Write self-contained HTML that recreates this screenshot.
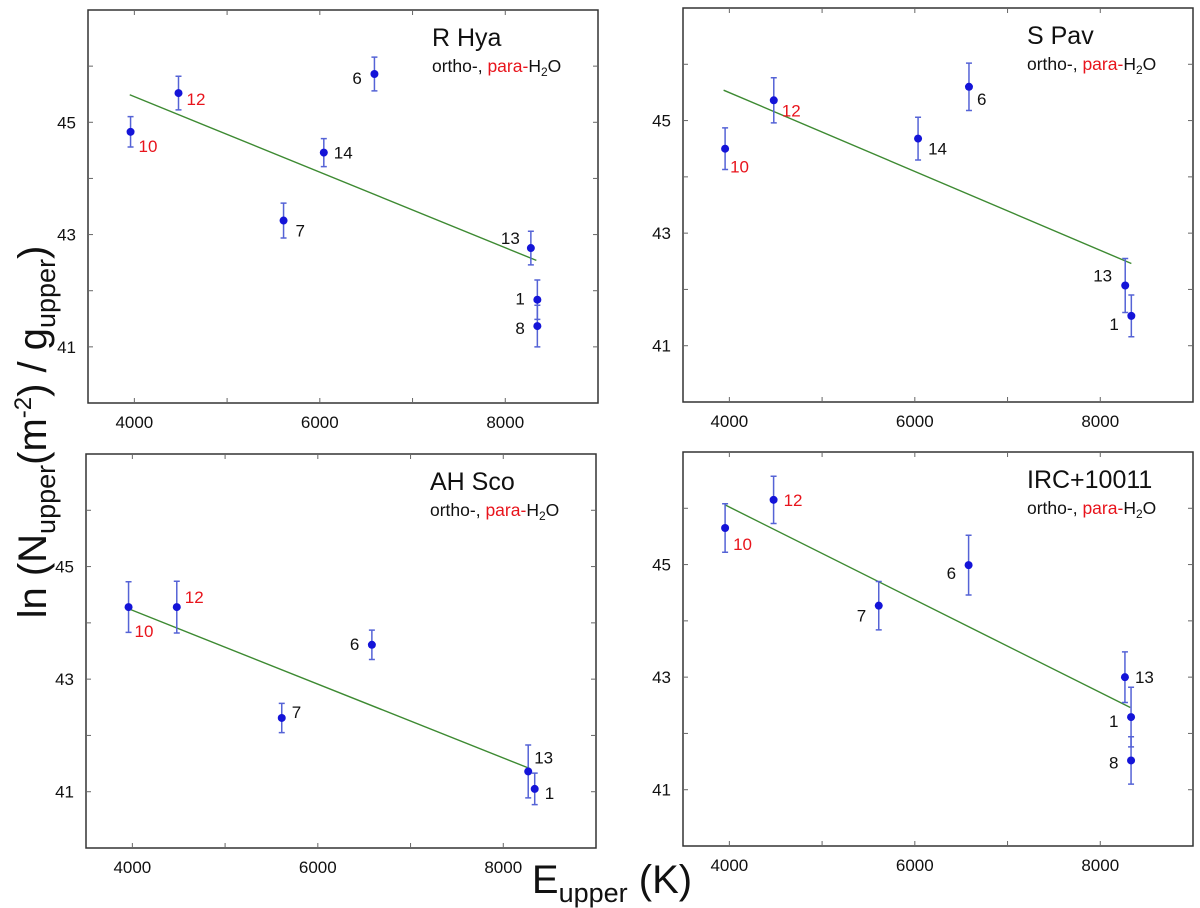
<!DOCTYPE html>
<html><head><meta charset="utf-8">
<style>
html,body{margin:0;padding:0;background:#fff;}
svg{display:block;font-family:"Liberation Sans",sans-serif;}
</style></head>
<body>
<svg id="fig" width="1200" height="908" viewBox="0 0 1200 908">
  <text transform="translate(46,432) rotate(-90)" text-anchor="middle" font-size="40" fill="#111">ln (N<tspan font-size="27" dy="9">upper</tspan><tspan dy="-9">(m</tspan><tspan font-size="24" dy="-15">-2</tspan><tspan dy="15">) / g</tspan><tspan font-size="27" dy="9">upper</tspan><tspan dy="-9">)</tspan></text>
  <text x="612" y="893" text-anchor="middle" font-size="40" fill="#111">E<tspan font-size="27" dy="9">upper</tspan><tspan dy="-9"> (K)</tspan></text>
</svg>
<script>
// ---- data ----
const xTicks = [4000, 6000, 8000];
const yTicks = [41, 43, 45];
const panelNames = ["R Hya", "S Pav", "AH Sco", "IRC+10011"];

const rhyaLines = ["10","12","7","14","6","13","1","8"];
const rhyaE = [3959, 4476, 5609, 6043, 6589, 8276, 8346, 8346];
const rhyaV = [44.83, 45.52, 43.25, 44.46, 45.86, 42.76, 41.84, 41.37];
const rhyaErr = [0.27, 0.30, 0.31, 0.25, 0.30, 0.30, 0.35, 0.37];
const rhyaFitE = [3950, 8335];
const rhyaFitV = [45.49, 42.54];

const spavLines = ["10","12","14","6","13","1"];
const spavE = [3954, 4479, 6035, 6584, 8269, 8335];
const spavV = [44.50, 45.36, 44.68, 45.60, 42.07, 41.53];
const spavErr = [0.37, 0.40, 0.38, 0.42, 0.48, 0.37];
const spavFitE = [3938, 8335];
const spavFitV = [45.54, 42.46];

const ahscoLines = ["10","12","7","6","13","1"];
const ahscoE = [3959, 4479, 5611, 6583, 8269, 8339];
const ahscoV = [44.28, 44.28, 42.31, 43.61, 41.36, 41.05];
const ahscoErr = [0.45, 0.46, 0.26, 0.26, 0.47, 0.28];
const ahscoFitE = [3959, 8289];
const ahscoFitV = [44.25, 41.41];

const ircLines = ["10","12","7","6","13","1","8"];
const ircE = [3954, 4477, 5611, 6580, 8266, 8332, 8332];
const ircV = [45.65, 46.15, 44.27, 44.99, 43.00, 42.29, 41.52];
const ircErr = [0.43, 0.42, 0.43, 0.53, 0.45, 0.53, 0.42];
const ircFitE = [3954, 8324];
const ircFitV = [46.06, 42.46];

// ---- layout / style (not data) ----
const X0 = 3500, X1 = 9000, Y0 = 40, Y1 = 47;
const boxes = [[88,10,510,393],[683,8,510,394],[86,454,510,394],[683,452,510,394]];
const labelOffsets = [
  {"10":[8,20],"12":[8,12],"7":[12,16],"14":[10,6],"6":[-22,10],"13":[-30,-4],"1":[-22,5],"8":[-22,8]},
  {"10":[5,24],"12":[8,16],"14":[10,16],"6":[8,18],"13":[-32,-4],"1":[-22,14]},
  {"10":[6,30],"12":[8,-4],"7":[10,0],"6":[-22,5],"13":[6,-8],"1":[10,10]},
  {"10":[8,22],"12":[10,6],"7":[-22,16],"6":[-22,14],"13":[10,6],"1":[-22,10],"8":[-22,8]}
];
const all = [
  [rhyaLines, rhyaE, rhyaV, rhyaErr, rhyaFitE, rhyaFitV],
  [spavLines, spavE, spavV, spavErr, spavFitE, spavFitV],
  [ahscoLines, ahscoE, ahscoV, ahscoErr, ahscoFitE, ahscoFitV],
  [ircLines, ircE, ircV, ircErr, ircFitE, ircFitV]
];
const paraSet = ["10","12"];
const NS = "http://www.w3.org/2000/svg";
const svg = document.getElementById("fig");
function mk(tag, attrs, parent){
  const e = document.createElementNS(NS, tag);
  for (const k in attrs) e.setAttribute(k, attrs[k]);
  (parent||svg).appendChild(e);
  return e;
}
all.forEach((d, p) => {
  const [L, T, W, H] = boxes[p];
  const sx = v => L + (v - X0) / (X1 - X0) * W;
  const sy = v => T + H - (v - Y0) / (Y1 - Y0) * H;
  const g = mk("g", {});
  
  
  const frame = mk("rect", {x:L, y:T, width:W, height:H, fill:"none", stroke:"#333", "stroke-width":1.5}, g);
  
  
  for (let v = 4000; v <= 8000; v += 1000) {
    mk("line", {x1:sx(v), x2:sx(v), y1:T+H, y2:T+H-5, stroke:"#666"}, g);
    mk("line", {x1:sx(v), x2:sx(v), y1:T, y2:T+5, stroke:"#666"}, g);
  }
  for (let v = 41; v <= 46; v++) {
    mk("line", {x1:L, x2:L+5, y1:sy(v), y2:sy(v), stroke:"#666"}, g);
    mk("line", {x1:L+W, x2:L+W-5, y1:sy(v), y2:sy(v), stroke:"#666"}, g);
  }
  xTicks.forEach(v => {
    const t = mk("text", {x:sx(v), y:T+H+25, "text-anchor":"middle", "font-size":17, fill:"#111"}, g);
    
    
    t.textContent = v;
  });
  yTicks.forEach(v => {
    const t = mk("text", {x:L-12, y:sy(v)+6, "text-anchor":"end", "font-size":17, fill:"#111"}, g);
    
    
    t.textContent = v;
  });
  const tt = mk("text", {x:L+W-166, y:T+36, "font-size":25, fill:"#111"}, g);
  
  
  tt.textContent = panelNames[p];
  const sub = mk("text", {x:L+W-166, y:T+62, "font-size":17.5, fill:"#111"}, g);
  
  
  sub.innerHTML = 'ortho-, <tspan fill="#e8141c">para-</tspan>H<tspan font-size="12" dy="4">2</tspan><tspan dy="-4">O</tspan>';
  const [lines, E, V, Er, FE, FV] = d;
  const fit = mk("line", {x1:sx(FE[0]), y1:sy(FV[0]), x2:sx(FE[1]), y2:sy(FV[1]), stroke:"#3d8a32", "stroke-width":1.4}, g);
  
  
  E.forEach((e, i) => {
    const x = sx(e), y = sy(V[i]), yt = sy(V[i] + Er[i]), yb = sy(V[i] - Er[i]);
    const eb = mk("path", {d:`M${x},${yt}V${yb}M${x-3},${yt}H${x+3}M${x-3},${yb}H${x+3}`, stroke:"#5563d6", "stroke-width":1.5, fill:"none"}, g);
    
    
    const c = mk("circle", {cx:x, cy:y, r:4, fill:"#1414d8"}, g);
    
    
    const off = labelOffsets[p][lines[i]] || [8, 6];
    const lt = mk("text", {x:x+off[0], y:y+off[1], "font-size":17, fill: paraSet.includes(lines[i]) ? "#e8141c" : "#111"}, g);
    
    
    lt.textContent = lines[i];
  });
});
</script>
</body></html>
